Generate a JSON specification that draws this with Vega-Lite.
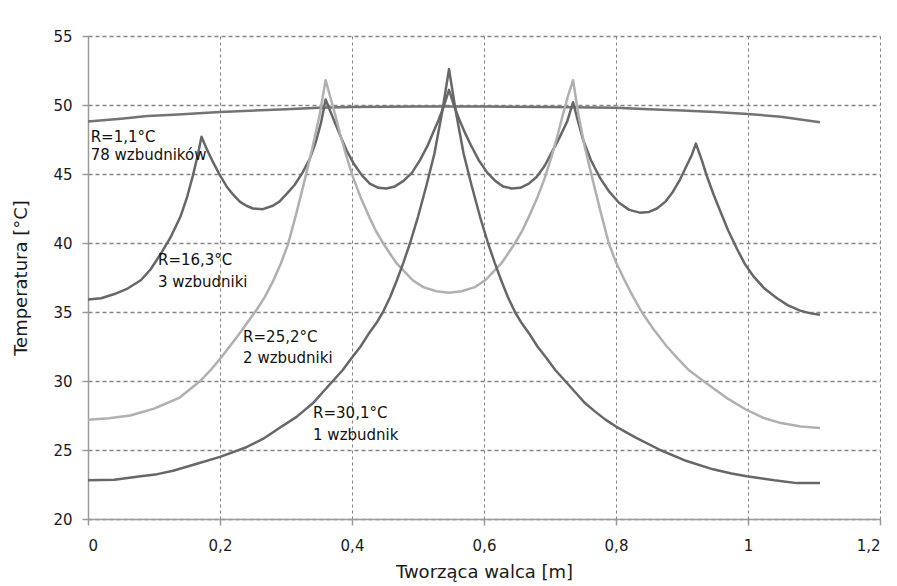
{
  "$schema": "https://vega.github.io/schema/vega-lite/v6.json",
  "width": 792,
  "height": 483,
  "autosize": {"type": "none"},
  "padding": {"left": 88, "top": 36, "right": 17, "bottom": 67},
  "background": "white",
  "config": {
    "font": "DejaVu Sans",
    "view": {"stroke": null},
    "axis": {
      "domainColor": "#9a9a9a",
      "domainWidth": 1.5,
      "tickColor": "#9a9a9a",
      "tickWidth": 1.5,
      "tickSize": 6,
      "labelColor": "#1a1a1a",
      "labelFontSize": 15,
      "titleFontSize": 18,
      "titleFontWeight": "normal",
      "titleColor": "#1a1a1a",
      "grid": true,
      "gridColor": "#858585"
    }
  },
  "datasets": {
    "curves": [
      {"s": "A", "x": 0, "t": 48.8}, {"s": "A", "x": 0.05, "t": 49.0}, {"s": "A", "x": 0.09, "t": 49.2}, {"s": "A", "x": 0.13, "t": 49.3},
      {"s": "A", "x": 0.2, "t": 49.5}, {"s": "A", "x": 0.3, "t": 49.7}, {"s": "A", "x": 0.35, "t": 49.8}, {"s": "A", "x": 0.4, "t": 49.85},
      {"s": "A", "x": 0.5, "t": 49.9}, {"s": "A", "x": 0.6, "t": 49.9}, {"s": "A", "x": 0.7, "t": 49.85}, {"s": "A", "x": 0.8, "t": 49.8},
      {"s": "A", "x": 0.85, "t": 49.7}, {"s": "A", "x": 0.9, "t": 49.6}, {"s": "A", "x": 0.95, "t": 49.5}, {"s": "A", "x": 1.0, "t": 49.35},
      {"s": "A", "x": 1.05, "t": 49.15}, {"s": "A", "x": 1.109, "t": 48.75},

      {"s": "B", "x": 0, "t": 35.9}, {"s": "B", "x": 0.02, "t": 36.0}, {"s": "B", "x": 0.04, "t": 36.3}, {"s": "B", "x": 0.06, "t": 36.7},
      {"s": "B", "x": 0.08, "t": 37.3}, {"s": "B", "x": 0.095, "t": 38.1}, {"s": "B", "x": 0.11, "t": 39.2}, {"s": "B", "x": 0.125, "t": 40.4},
      {"s": "B", "x": 0.14, "t": 41.9}, {"s": "B", "x": 0.15, "t": 43.3}, {"s": "B", "x": 0.159, "t": 44.9}, {"s": "B", "x": 0.166, "t": 46.3},
      {"s": "B", "x": 0.172, "t": 47.7}, {"s": "B", "x": 0.18, "t": 46.8}, {"s": "B", "x": 0.19, "t": 45.8},
      {"s": "B", "x": 0.2, "t": 44.9}, {"s": "B", "x": 0.21, "t": 44.1}, {"s": "B", "x": 0.22, "t": 43.5}, {"s": "B", "x": 0.23, "t": 43.0}, {"s": "B", "x": 0.24, "t": 42.7},
      {"s": "B", "x": 0.25, "t": 42.5}, {"s": "B", "x": 0.265, "t": 42.45}, {"s": "B", "x": 0.28, "t": 42.7}, {"s": "B", "x": 0.29, "t": 43.0},
      {"s": "B", "x": 0.3, "t": 43.5}, {"s": "B", "x": 0.313, "t": 44.2}, {"s": "B", "x": 0.325, "t": 45.1}, {"s": "B", "x": 0.336, "t": 46.1}, {"s": "B", "x": 0.345, "t": 47.3},
      {"s": "B", "x": 0.353, "t": 48.7}, {"s": "B", "x": 0.36, "t": 50.4}, {"s": "B", "x": 0.37, "t": 49.2}, {"s": "B", "x": 0.382, "t": 47.8}, {"s": "B", "x": 0.392, "t": 46.7},
      {"s": "B", "x": 0.402, "t": 45.8}, {"s": "B", "x": 0.415, "t": 44.9}, {"s": "B", "x": 0.427, "t": 44.3}, {"s": "B", "x": 0.44, "t": 44.0},
      {"s": "B", "x": 0.452, "t": 43.95}, {"s": "B", "x": 0.465, "t": 44.1}, {"s": "B", "x": 0.478, "t": 44.5}, {"s": "B", "x": 0.491, "t": 45.1}, {"s": "B", "x": 0.503, "t": 46.0},
      {"s": "B", "x": 0.514, "t": 47.0}, {"s": "B", "x": 0.523, "t": 48.0}, {"s": "B", "x": 0.531, "t": 48.9}, {"s": "B", "x": 0.539, "t": 49.9},
      {"s": "B", "x": 0.547, "t": 51.1}, {"s": "B", "x": 0.555, "t": 49.9}, {"s": "B", "x": 0.563, "t": 48.9}, {"s": "B", "x": 0.571, "t": 48.0},
      {"s": "B", "x": 0.58, "t": 47.1}, {"s": "B", "x": 0.592, "t": 46.0}, {"s": "B", "x": 0.605, "t": 45.1}, {"s": "B", "x": 0.617, "t": 44.5},
      {"s": "B", "x": 0.629, "t": 44.1}, {"s": "B", "x": 0.642, "t": 43.95}, {"s": "B", "x": 0.655, "t": 44.0}, {"s": "B", "x": 0.668, "t": 44.3},
      {"s": "B", "x": 0.68, "t": 44.8}, {"s": "B", "x": 0.692, "t": 45.6}, {"s": "B", "x": 0.703, "t": 46.6}, {"s": "B", "x": 0.714, "t": 47.6},
      {"s": "B", "x": 0.726, "t": 48.8}, {"s": "B", "x": 0.735, "t": 50.2}, {"s": "B", "x": 0.742, "t": 48.9}, {"s": "B", "x": 0.75, "t": 47.5},
      {"s": "B", "x": 0.762, "t": 46.0}, {"s": "B", "x": 0.776, "t": 44.7}, {"s": "B", "x": 0.79, "t": 43.7}, {"s": "B", "x": 0.805, "t": 42.9},
      {"s": "B", "x": 0.82, "t": 42.4}, {"s": "B", "x": 0.836, "t": 42.2}, {"s": "B", "x": 0.85, "t": 42.25}, {"s": "B", "x": 0.862, "t": 42.5},
      {"s": "B", "x": 0.875, "t": 43.0}, {"s": "B", "x": 0.886, "t": 43.7}, {"s": "B", "x": 0.897, "t": 44.6}, {"s": "B", "x": 0.907, "t": 45.6},
      {"s": "B", "x": 0.915, "t": 46.4}, {"s": "B", "x": 0.921, "t": 47.2}, {"s": "B", "x": 0.93, "t": 46.0}, {"s": "B", "x": 0.938, "t": 44.8},
      {"s": "B", "x": 0.948, "t": 43.5}, {"s": "B", "x": 0.958, "t": 42.3}, {"s": "B", "x": 0.97, "t": 40.9}, {"s": "B", "x": 0.983, "t": 39.6},
      {"s": "B", "x": 0.995, "t": 38.5}, {"s": "B", "x": 1.008, "t": 37.6}, {"s": "B", "x": 1.025, "t": 36.7}, {"s": "B", "x": 1.044, "t": 36.0},
      {"s": "B", "x": 1.06, "t": 35.5}, {"s": "B", "x": 1.079, "t": 35.1}, {"s": "B", "x": 1.095, "t": 34.9}, {"s": "B", "x": 1.109, "t": 34.8},

      {"s": "C", "x": 0, "t": 27.2}, {"s": "C", "x": 0.032, "t": 27.3}, {"s": "C", "x": 0.064, "t": 27.5}, {"s": "C", "x": 0.1, "t": 28.0}, {"s": "C", "x": 0.139, "t": 28.8},
      {"s": "C", "x": 0.17, "t": 30.0}, {"s": "C", "x": 0.186, "t": 30.8}, {"s": "C", "x": 0.2, "t": 31.6}, {"s": "C", "x": 0.213, "t": 32.4}, {"s": "C", "x": 0.226, "t": 33.2},
      {"s": "C", "x": 0.241, "t": 34.2}, {"s": "C", "x": 0.256, "t": 35.2}, {"s": "C", "x": 0.268, "t": 36.1},
      {"s": "C", "x": 0.28, "t": 37.2}, {"s": "C", "x": 0.292, "t": 38.5}, {"s": "C", "x": 0.303, "t": 39.9}, {"s": "C", "x": 0.316, "t": 42.2}, {"s": "C", "x": 0.328, "t": 44.5},
      {"s": "C", "x": 0.34, "t": 46.9}, {"s": "C", "x": 0.351, "t": 49.3}, {"s": "C", "x": 0.36, "t": 51.8}, {"s": "C", "x": 0.367, "t": 50.6},
      {"s": "C", "x": 0.375, "t": 49.2}, {"s": "C", "x": 0.382, "t": 47.9}, {"s": "C", "x": 0.392, "t": 46.2}, {"s": "C", "x": 0.402, "t": 44.7}, {"s": "C", "x": 0.414, "t": 43.2}, {"s": "C", "x": 0.427, "t": 41.8},
      {"s": "C", "x": 0.437, "t": 40.8}, {"s": "C", "x": 0.447, "t": 40.0}, {"s": "C", "x": 0.458, "t": 39.2},
      {"s": "C", "x": 0.468, "t": 38.5}, {"s": "C", "x": 0.48, "t": 37.9}, {"s": "C", "x": 0.492, "t": 37.3}, {"s": "C", "x": 0.508, "t": 36.8}, {"s": "C", "x": 0.528, "t": 36.5},
      {"s": "C", "x": 0.547, "t": 36.4}, {"s": "C", "x": 0.566, "t": 36.5}, {"s": "C", "x": 0.586, "t": 36.8}, {"s": "C", "x": 0.602, "t": 37.3},
      {"s": "C", "x": 0.614, "t": 37.9}, {"s": "C", "x": 0.626, "t": 38.5}, {"s": "C", "x": 0.636, "t": 39.2}, {"s": "C", "x": 0.647, "t": 40.0},
      {"s": "C", "x": 0.657, "t": 40.8}, {"s": "C", "x": 0.667, "t": 41.8}, {"s": "C", "x": 0.68, "t": 43.2}, {"s": "C", "x": 0.692, "t": 44.7},
      {"s": "C", "x": 0.702, "t": 46.2}, {"s": "C", "x": 0.712, "t": 47.9}, {"s": "C", "x": 0.719, "t": 49.2}, {"s": "C", "x": 0.727, "t": 50.6},
      {"s": "C", "x": 0.735, "t": 51.8}, {"s": "C", "x": 0.743, "t": 49.3}, {"s": "C", "x": 0.753, "t": 46.9}, {"s": "C", "x": 0.765, "t": 44.5},
      {"s": "C", "x": 0.777, "t": 42.2}, {"s": "C", "x": 0.789, "t": 40.0}, {"s": "C", "x": 0.8, "t": 38.6}, {"s": "C", "x": 0.813, "t": 37.3},
      {"s": "C", "x": 0.826, "t": 36.1}, {"s": "C", "x": 0.839, "t": 35.0}, {"s": "C", "x": 0.856, "t": 33.8}, {"s": "C", "x": 0.877, "t": 32.5},
      {"s": "C", "x": 0.894, "t": 31.6}, {"s": "C", "x": 0.91, "t": 30.8}, {"s": "C", "x": 0.938, "t": 29.8}, {"s": "C", "x": 0.97, "t": 28.7}, {"s": "C", "x": 0.998, "t": 27.9},
      {"s": "C", "x": 1.025, "t": 27.3}, {"s": "C", "x": 1.05, "t": 26.95}, {"s": "C", "x": 1.08, "t": 26.7}, {"s": "C", "x": 1.109, "t": 26.6},

      {"s": "D", "x": 0, "t": 22.8}, {"s": "D", "x": 0.04, "t": 22.85}, {"s": "D", "x": 0.08, "t": 23.1}, {"s": "D", "x": 0.105, "t": 23.25}, {"s": "D", "x": 0.129, "t": 23.5},
      {"s": "D", "x": 0.165, "t": 24.0}, {"s": "D", "x": 0.2, "t": 24.5}, {"s": "D", "x": 0.24, "t": 25.2}, {"s": "D", "x": 0.265, "t": 25.8},
      {"s": "D", "x": 0.29, "t": 26.6}, {"s": "D", "x": 0.316, "t": 27.4}, {"s": "D", "x": 0.341, "t": 28.4}, {"s": "D", "x": 0.356, "t": 29.2},
      {"s": "D", "x": 0.371, "t": 30.0}, {"s": "D", "x": 0.386, "t": 30.8}, {"s": "D", "x": 0.4, "t": 31.7}, {"s": "D", "x": 0.413, "t": 32.5},
      {"s": "D", "x": 0.425, "t": 33.4}, {"s": "D", "x": 0.437, "t": 34.2}, {"s": "D", "x": 0.447, "t": 35.0}, {"s": "D", "x": 0.458, "t": 36.1},
      {"s": "D", "x": 0.468, "t": 37.3}, {"s": "D", "x": 0.478, "t": 38.6}, {"s": "D", "x": 0.488, "t": 40.0}, {"s": "D", "x": 0.5, "t": 41.9},
      {"s": "D", "x": 0.513, "t": 44.2}, {"s": "D", "x": 0.525, "t": 46.5}, {"s": "D", "x": 0.537, "t": 49.6}, {"s": "D", "x": 0.547, "t": 52.6},
      {"s": "D", "x": 0.557, "t": 49.6}, {"s": "D", "x": 0.569, "t": 46.5}, {"s": "D", "x": 0.581, "t": 44.2}, {"s": "D", "x": 0.594, "t": 41.9},
      {"s": "D", "x": 0.606, "t": 40.0}, {"s": "D", "x": 0.616, "t": 38.6}, {"s": "D", "x": 0.626, "t": 37.3}, {"s": "D", "x": 0.636, "t": 36.1},
      {"s": "D", "x": 0.647, "t": 35.0}, {"s": "D", "x": 0.657, "t": 34.2}, {"s": "D", "x": 0.669, "t": 33.4}, {"s": "D", "x": 0.681, "t": 32.5},
      {"s": "D", "x": 0.694, "t": 31.7}, {"s": "D", "x": 0.708, "t": 30.8}, {"s": "D", "x": 0.723, "t": 30.0}, {"s": "D", "x": 0.738, "t": 29.2},
      {"s": "D", "x": 0.753, "t": 28.4}, {"s": "D", "x": 0.768, "t": 27.8}, {"s": "D", "x": 0.784, "t": 27.2}, {"s": "D", "x": 0.8, "t": 26.7}, {"s": "D", "x": 0.83, "t": 25.9},
      {"s": "D", "x": 0.867, "t": 25.0}, {"s": "D", "x": 0.907, "t": 24.2}, {"s": "D", "x": 0.947, "t": 23.6}, {"s": "D", "x": 0.975, "t": 23.3}, {"s": "D", "x": 0.998, "t": 23.1},
      {"s": "D", "x": 1.04, "t": 22.8}, {"s": "D", "x": 1.074, "t": 22.6}, {"s": "D", "x": 1.109, "t": 22.6}
    ],
    "labels": [
      {"x": 0.004, "t": 47.7, "text": "R=1,1°C"},
      {"x": 0.004, "t": 46.35, "text": "78 wzbudników"},
      {"x": 0.106, "t": 38.8, "text": "R=16,3°C"},
      {"x": 0.106, "t": 37.2, "text": "3 wzbudniki"},
      {"x": 0.235, "t": 33.2, "text": "R=25,2°C"},
      {"x": 0.235, "t": 31.7, "text": "2 wzbudniki"},
      {"x": 0.341, "t": 27.7, "text": "R=30,1°C"},
      {"x": 0.341, "t": 26.1, "text": "1 wzbudnik"}
    ]
  },
  "encoding": {
    "x": {
      "field": "x",
      "type": "quantitative",
      "scale": {"domain": [0, 1.2], "nice": false, "zero": false},
      "axis": {
        "title": "Tworząca walca [m]",
        "values": [0, 0.2, 0.4, 0.6, 0.8, 1, 1.2],
        "format": ".1~f",
        "labelExpr": "replace(datum.label, '.', ',')",
        "labelPadding": 13,
        "titlePadding": 10,
        "gridDash": [3, 3],
        "gridWidth": 1
      }
    },
    "y": {
      "field": "t",
      "type": "quantitative",
      "scale": {"domain": [20, 55], "nice": false, "zero": false},
      "axis": {
        "title": "Temperatura [°C]",
        "values": [20, 25, 30, 35, 40, 45, 50, 55],
        "labelPadding": 10,
        "titlePadding": 22,
        "gridDash": [4, 3],
        "gridWidth": 1.5
      }
    }
  },
  "layer": [
    {
      "data": {"name": "curves"},
      "mark": {"type": "line", "strokeWidth": 2.5, "interpolate": "linear", "strokeJoin": "round"},
      "encoding": {
        "detail": {"field": "s", "type": "nominal"},
        "color": {
          "field": "s",
          "type": "nominal",
          "scale": {"domain": ["A", "B", "C", "D"], "range": ["#737373", "#676767", "#b0b0b0", "#676767"]},
          "legend": null
        }
      }
    },
    {
      "data": {"name": "labels"},
      "mark": {"type": "text", "align": "left", "baseline": "middle", "fontSize": 15, "color": "#111111"},
      "encoding": {"text": {"field": "text", "type": "nominal"}}
    }
  ]
}
